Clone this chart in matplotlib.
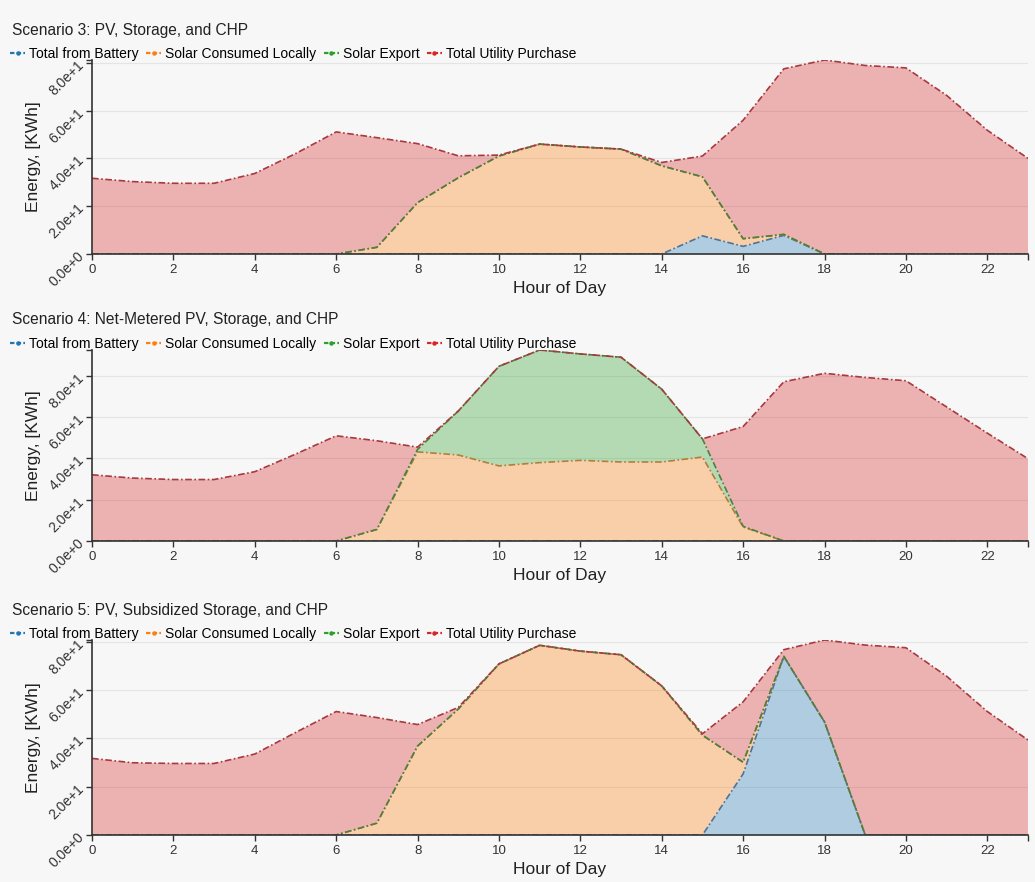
import numpy as np
import matplotlib
matplotlib.use("Agg")
import matplotlib.pyplot as plt
from matplotlib.lines import Line2D
from matplotlib.ticker import FixedLocator

plt.rcParams['font.family'] = ['Liberation Sans', 'DejaVu Sans']

hours = np.arange(24)
series_names = ["Total from Battery", "Solar Consumed Locally", "Solar Export", "Total Utility Purchase"]
fill_colors = ["#1f77b4", "#ff7f0e", "#2ca02c", "#d62728"]
line_colors = ["#4f7396", "#b0803a", "#4f7f3f", "#a8393f"]

# Scenario 3: PV, Storage, and CHP
s3_battery = [0, 0, 0, 0, 0, 0, 0, 0, 0, 0, 0, 0, 0, 0, 0, 7.6, 3.2, 7.8, 0, 0, 0, 0, 0, 0]
s3_local = [0, 0, 0, 0, 0, 0, 0, 2.8, 21.5, 31.9, 41.0, 46.0, 44.8, 43.9, 36.9, 24.7, 3.2, 0.4, 0, 0, 0, 0, 0, 0]
s3_export = [0] * 24
s3_utility = [31.7, 30.3, 29.6, 29.6, 33.7, 42.0, 51.1, 45.9, 24.7, 9.2, 0.4, 0, 0, 0, 1.4, 8.7, 49.6, 69.3,
              81.2, 78.9, 77.9, 66.4, 51.8, 40.0]

# Scenario 4: Net-Metered PV, Storage, and CHP
s4_battery = [0] * 24
s4_local = [0, 0, 0, 0, 0, 0, 0, 5.6, 43.2, 41.7, 36.4, 38.0, 39.1, 38.3, 38.3, 40.7, 6.8, 0, 0, 0, 0, 0, 0, 0]
s4_export = [0, 0, 0, 0, 0, 0, 0, 0, 1.2, 21.3, 48.3, 54.6, 51.6, 50.8, 35.3, 8.8, 0.3, 0, 0, 0, 0, 0, 0, 0]
s4_utility = [32.1, 30.5, 29.8, 29.8, 33.6, 42.1, 51.0, 43.0, 1.1, 0, 0, 0, 0, 0, 0, 0, 48.4, 77.2,
              81.3, 79.3, 77.7, 65.0, 52.3, 39.9]

# Scenario 5: PV, Subsidized Storage, and CHP
s5_battery = [0, 0, 0, 0, 0, 0, 0, 0, 0, 0, 0, 0, 0, 0, 0, 0, 25.3, 73.9, 46.8, 0, 0, 0, 0, 0]
s5_local = [0, 0, 0, 0, 0, 0, 0, 4.9, 36.8, 52.1, 70.8, 78.5, 76.1, 74.6, 61.7, 41.3, 4.8, 0, 0, 0, 0, 0, 0, 0]
s5_export = [0] * 24
s5_utility = [31.7, 29.9, 29.6, 29.6, 33.5, 42.4, 51.1, 43.7, 8.9, 0.7, 0, 0, 0, 0, 0, 0.6, 25.0, 2.8,
              33.9, 78.6, 77.5, 65.7, 51.1, 39.3]

scenarios = [
    ("Scenario 3: PV, Storage, and CHP", [s3_battery, s3_local, s3_export, s3_utility]),
    ("Scenario 4: Net-Metered PV, Storage, and CHP", [s4_battery, s4_local, s4_export, s4_utility]),
    ("Scenario 5: PV, Subsidized Storage, and CHP", [s5_battery, s5_local, s5_export, s5_utility]),
]
y_ticks = [0, 20, 40, 60, 80]
y_tick_labels = ["0.0e+0", "2.0e+1", "4.0e+1", "6.0e+1", "8.0e+1"]

W, H = 1035, 882
bg = "#f7f7f7"
fig = plt.figure(figsize=(W / 100, H / 100), dpi=100, facecolor=bg)

# axes boxes in pixels: (top, bottom)
boxes = [(60, 254), (350, 541), (640, 835)]
left_px, right_px = 92, 1028

dash = (0, (4, 1.5, 1, 1.5))
handles = [Line2D([], [], color=c, lw=1.6, ls=(0, (2, 1)), marker="o", ms=2.2) for c in fill_colors]


def draw_scenario(ax, title, layers):
    data = np.array(layers, dtype=float)
    cum = np.cumsum(data, axis=0)
    ax.set_facecolor(bg)
    ax.stackplot(hours, data, colors=fill_colors, alpha=0.33, linewidth=0)
    for i in range(len(series_names)):
        ax.plot(hours, cum[i], color=line_colors[i], lw=1.2, ls=dash)

    ax.set_xlim(0, 23)
    ax.set_ylim(0, cum[-1].max())
    ax.set_xticks(range(0, 23, 2))
    ax.xaxis.set_minor_locator(FixedLocator([23]))
    ax.set_yticks(y_ticks)
    ax.set_yticklabels(y_tick_labels, rotation=45, ha="right", va="center", rotation_mode="anchor")
    ax.yaxis.set_minor_locator(FixedLocator([cum[-1].max()]))
    ax.tick_params(which="both", length=4.5, width=1, color="#333333", labelcolor="#333333")
    ax.tick_params(axis="x", pad=3, labelsize=9.5)
    ax.tick_params(axis="y", pad=3, labelsize=10)
    ax.grid(axis="y", color="#e4e4e4", lw=0.8)
    ax.set_axisbelow(True)
    for s in ["top", "right"]:
        ax.spines[s].set_visible(False)
    for s in ["left", "bottom"]:
        ax.spines[s].set_color("#333333")
        ax.spines[s].set_linewidth(1.2)
    ax.set_xlabel("Hour of Day", fontsize=12.5, color="#222222", labelpad=3)
    ax.set_ylabel("Energy, [KWh]", fontsize=12.5, color="#222222", labelpad=4)

    y1 = ax.get_position().y1
    fig.text(12 / W, y1 + 30 / H, title, fontsize=11.2, color="#222222", va="center", ha="left")
    ax.legend(handles, series_names, loc="center left", bbox_to_anchor=(10 / W, y1 + 6 / H),
              bbox_transform=fig.transFigure, ncol=4, frameon=False, fontsize=10,
              handlelength=1.1, handletextpad=0.3, columnspacing=0.5, borderpad=0, borderaxespad=0)


for (title, layers), (top, bottom) in zip(scenarios, boxes):
    ax = fig.add_axes([left_px / W, 1 - bottom / H, (right_px - left_px) / W, (bottom - top) / H])
    draw_scenario(ax, title, layers)

fig.savefig("out.png", dpi=100, facecolor=bg)
